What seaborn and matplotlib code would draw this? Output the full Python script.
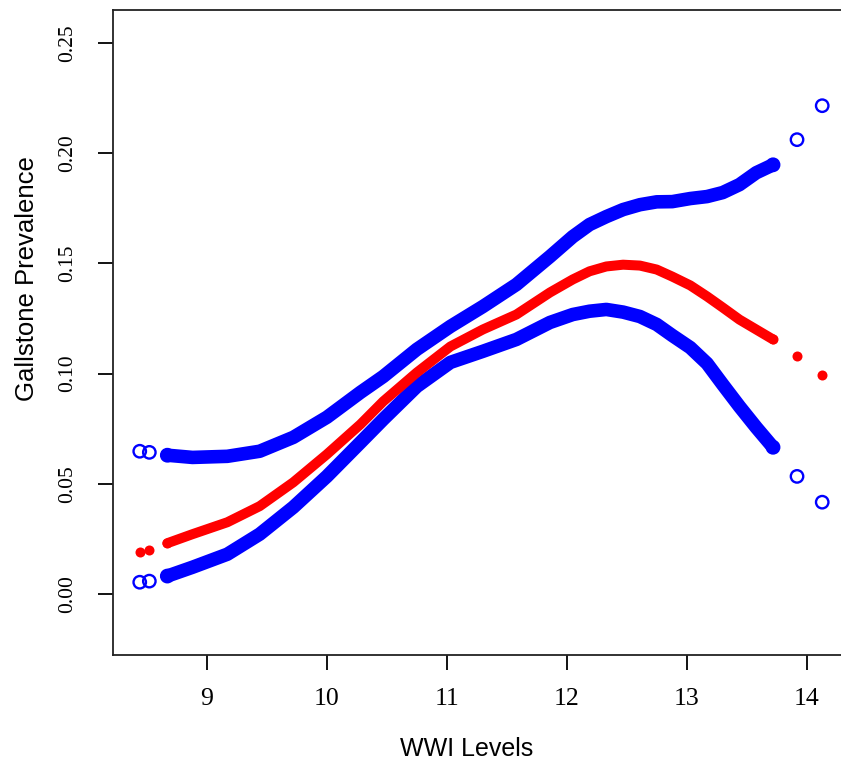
import numpy as np
import pandas as pd
import matplotlib.pyplot as plt
import seaborn as sns

# WWI values along the dense part of the curves
wwi = [8.67, 8.88, 9.17, 9.44, 9.72, 10.0, 10.28, 10.47, 10.75, 11.03,
       11.3, 11.58, 11.86, 12.05, 12.19, 12.33, 12.47, 12.61, 12.75, 12.88,
       13.03, 13.17, 13.3, 13.44, 13.58, 13.72]
upper = [0.0630, 0.0620, 0.0625, 0.0648, 0.0711, 0.0802, 0.0915, 0.0987, 0.1110, 0.1214,
         0.1304, 0.1404, 0.1531, 0.1621, 0.1676, 0.1712, 0.1744, 0.1766, 0.1779, 0.1780,
         0.1794, 0.1803, 0.1821, 0.1857, 0.1911, 0.1947]
fit = [0.0231, 0.0272, 0.0326, 0.0399, 0.0507, 0.0634, 0.0770, 0.0874, 0.1005, 0.1123,
       0.1200, 0.1268, 0.1368, 0.1427, 0.1464, 0.1486, 0.1494, 0.1490, 0.1472, 0.1440,
       0.1400, 0.1350, 0.1300, 0.1245, 0.1200, 0.1155]
lower = [0.0082, 0.0122, 0.0181, 0.0272, 0.0394, 0.0534, 0.0688, 0.0793, 0.0942, 0.1051,
         0.1101, 0.1155, 0.1232, 0.1268, 0.1283, 0.1291, 0.1279, 0.1259, 0.1223, 0.1173,
         0.1118, 0.1046, 0.0951, 0.0851, 0.0756, 0.0666]

# sparse observations at both ends
wwi_ends = [8.44, 8.52, 13.92, 14.13]
upper_ends = [0.0648, 0.0643, 0.2061, 0.2215]
fit_ends = [0.0190, 0.0199, 0.1078, 0.0996]
lower_ends = [0.0054, 0.0059, 0.0534, 0.0417]

xticks = [9, 10, 11, 12, 13, 14]
yticks = [0.00, 0.05, 0.10, 0.15, 0.20, 0.25]

sns.set_style("ticks")
plt.rcParams['font.family'] = ['Liberation Sans', 'DejaVu Sans']
plt.rcParams['text.color'] = 'black'
plt.rcParams['axes.labelcolor'] = 'black'
plt.rcParams['xtick.color'] = 'black'
plt.rcParams['ytick.color'] = 'black'

dense = pd.DataFrame({'wwi': wwi, 'upper': upper, 'fit': fit, 'lower': lower})
ends = pd.DataFrame({'wwi': wwi_ends, 'upper': upper_ends, 'fit': fit_ends, 'lower': lower_ends})
# isolated points plus the two ends of the dense run
pts = pd.concat([ends, dense.iloc[[0, -1]]])

fig = plt.figure(figsize=(8.41, 7.63), dpi=100)
ax = fig.add_axes([113 / 841, (763 - 655) / 763, 738 / 841, 645 / 763])

blue = '#0000ff'
red = '#ff0000'

# confidence bounds
for col in ['upper', 'lower']:
    sns.lineplot(data=dense, x='wwi', y=col, ax=ax, color=blue, linewidth=9.8,
                 sort=False, estimator=None, solid_capstyle='round',
                 solid_joinstyle='round')
    sns.scatterplot(data=pts, x='wwi', y=col, ax=ax, marker='o', s=80,
                    facecolor='none', edgecolor=blue, linewidth=1.7, zorder=3)

# fitted prevalence
sns.lineplot(data=dense, x='wwi', y='fit', ax=ax, color=red, linewidth=7.2,
             sort=False, estimator=None, solid_capstyle='round',
             solid_joinstyle='round')
sns.scatterplot(data=pts, x='wwi', y='fit', ax=ax, color=red, s=52,
                linewidth=0, zorder=3)

ax.set_xlim(8.217, 14.37)
ax.set_ylim(-0.0276, 0.2649)
ax.set_xticks(xticks)
ax.set_yticks(yticks)
ax.set_xticklabels([str(t) for t in xticks], family='Liberation Serif', fontsize=18.5)
ax.set_yticklabels(['%.2f' % t for t in yticks], family='Liberation Serif', fontsize=15.5,
                   rotation=90, va='center')
ax.tick_params(axis='x', length=11, width=1.3, pad=13)
ax.tick_params(axis='y', length=11, width=1.3, pad=15)
for sp in ax.spines.values():
    sp.set_linewidth(1.3)
    sp.set_color('#222222')

ax.set_xlabel('WWI Levels', fontsize=18, va='center')
ax.set_ylabel('Gallstone Prevalence', fontsize=18.5, va='center')
ax.xaxis.set_label_coords(0.4797, -0.146)
ax.yaxis.set_label_coords(-0.1165, 0.584)

fig.savefig('out.png', dpi=100)
